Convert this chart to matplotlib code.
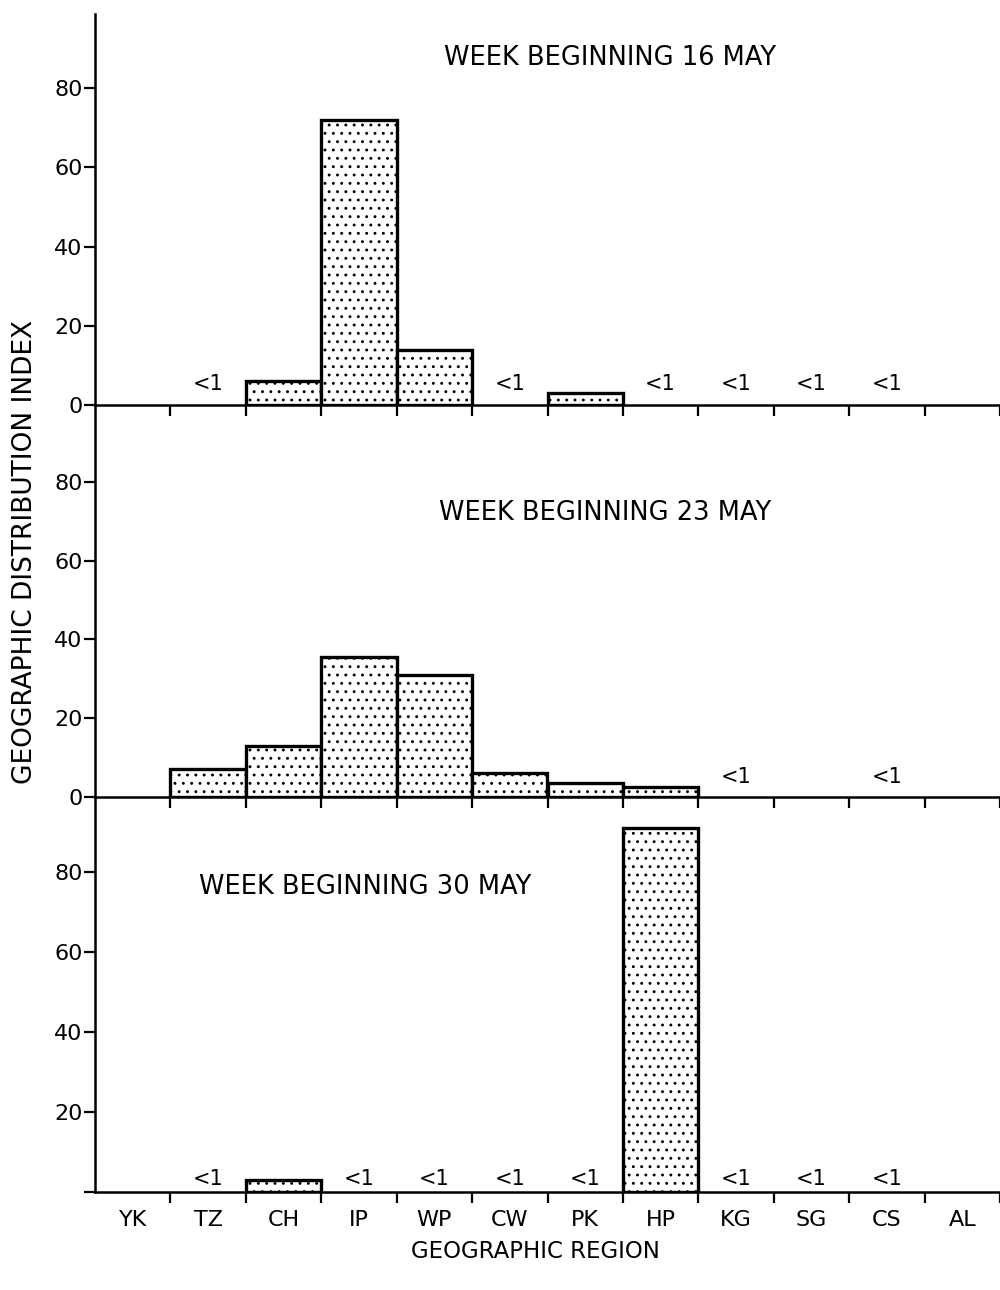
import matplotlib
matplotlib.use("Agg")
import matplotlib.pyplot as plt
import numpy as np

plt.rcParams['font.family'] = ['DejaVu Sans']
plt.rcParams['hatch.linewidth'] = 0.9

regions = ["YK", "TZ", "CH", "IP", "WP", "CW", "PK", "HP", "KG", "SG", "CS", "AL"]

# Geographic distribution index per region (0 = no bar drawn)
week_16_may = [0, 0, 6, 72, 14, 0, 3, 0, 0, 0, 0, 0]
week_23_may = [0, 7, 13, 35.5, 31, 6, 3.5, 2.5, 0, 0, 0, 0]
week_30_may = [0, 0, 3, 0, 0, 0, 0, 91, 0, 0, 0, 0]

# Regions flagged with a "<1" note in each week
small_16_may = ["TZ", "CW", "HP", "KG", "SG", "CS"]
small_23_may = ["KG", "CS"]
small_30_may = ["TZ", "IP", "WP", "CW", "PK", "KG", "SG", "CS"]

titles = ["WEEK BEGINNING 16 MAY", "WEEK BEGINNING 23 MAY", "WEEK BEGINNING 30 MAY"]
y_ticks = [0, 20, 40, 60, 80]

fig = plt.figure(figsize=(10, 12.9), dpi=100)

W, H = 1000.0, 1290.0
left = 95 / W
width = 905 / W
# (baseline px, top px, y-limit top, values, "<1" regions, note offset, label 0)
panels = [
    (405, 14, 98.7, week_16_may, small_16_may, 8, True),
    (797, 405, 99.5, week_23_may, small_23_may, 7, True),
    (1192, 797, 98.75, week_30_may, small_30_may, 2, False),
]

x = np.arange(len(regions))
axes = []
for i, (base, top, ymax, vals, small, off, lab0) in enumerate(panels):
    ax = fig.add_axes([left, 1 - base / H, width, (base - top) / H])
    ax.set_facecolor("none")
    ax.set_xlim(0, len(regions))
    ax.set_ylim(0, ymax)

    for xi, v in zip(x, vals):
        if v > 0:
            ax.bar(xi, v, width=1.0, align="edge", facecolor="white",
                   edgecolor="black", linewidth=2.4, hatch="..", zorder=3)

    for r in small:
        j = regions.index(r)
        ax.annotate("<1", (j + 0.5, 0), xytext=(0, off), textcoords="offset points",
                    ha="center", va="bottom", fontsize=15)

    for s in ("top", "right"):
        ax.spines[s].set_visible(False)
    ax.spines["left"].set_linewidth(1.8)
    ax.spines["bottom"].set_linewidth(1.8)
    ax.spines["bottom"].set_zorder(4)

    ax.set_yticks(y_ticks)
    ax.set_yticklabels([str(t) if (t != 0 or lab0) else "" for t in y_ticks])
    ax.tick_params(axis="y", direction="out", length=8, width=1.6,
                   labelsize=16, pad=1)

    ax.set_xticks(np.arange(1, len(regions) + 1))
    ax.set_xticklabels([])
    ax.tick_params(axis="x", which="major", direction="out", length=8, width=1.6)
    if i == 2:
        ax.set_xticks(x + 0.5, minor=True)
        ax.set_xticklabels(regions, minor=True)
        ax.tick_params(axis="x", which="minor", length=0, labelsize=16, pad=13)
    axes.append(ax)

fig.text(610 / W, 1 - 58 / H, titles[0], ha="center", va="center", fontsize=18.5)
fig.text(605 / W, 1 - 513 / H, titles[1], ha="center", va="center", fontsize=18.5)
fig.text(365 / W, 1 - 887 / H, titles[2], ha="center", va="center", fontsize=18.5)

fig.text(25 / W, 1 - 552 / H, "GEOGRAPHIC DISTRIBUTION INDEX", rotation=90,
         ha="center", va="center", fontsize=19)
fig.text(535 / W, 1 - 1252 / H, "GEOGRAPHIC REGION", ha="center", va="center",
         fontsize=16.5)

fig.savefig("out.png", dpi=100, facecolor="white")
